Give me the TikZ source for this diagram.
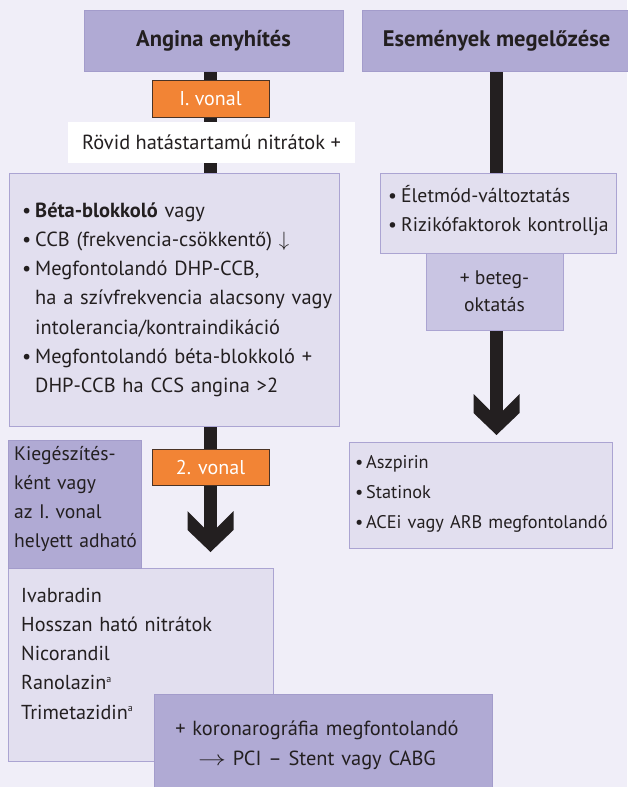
\documentclass[tikz,border=0pt]{standalone}
\usepackage{fontspec}
\setmainfont{PT Sans}
\definecolor{pagebg}{HTML}{F0EEF8}
\definecolor{midfill}{HTML}{B0AAD4}
\definecolor{midline}{HTML}{A39CCB}
\definecolor{lightfill}{HTML}{E2DFEF}
\definecolor{lightline}{HTML}{ABA4D2}
\definecolor{softfill}{HTML}{C9C5E3}
\definecolor{stepfill}{HTML}{F28435}
\definecolor{stepline}{HTML}{4A3326}
\definecolor{ink}{HTML}{231F20}
\pgfdeclarelayer{paper}
\pgfdeclarelayer{flow}
\pgfsetlayers{paper,flow,main}
\newcommand{\bul}{\makebox[13pt][l]{•}}
\newcommand{\bulr}{\makebox[11pt][l]{•}}
\newcommand{\ind}{\hspace*{13pt}}
\newcommand{\supa}{\raisebox{7.5pt}{\fontsize{10}{10}\selectfont a}}
\tikzset{
  panel/.style={line width=1pt, inner sep=0pt, text=ink},
  midbox/.style={panel, draw=midline, fill=midfill},
  lightbox/.style={panel, draw=lightline, fill=lightfill},
  softbox/.style={panel, draw=lightline, fill=softfill},
  stepbox/.style={panel, draw=stepline, line width=0.8pt, fill=stepfill, text=white,
    font=\fontsize{20}{22}\selectfont},
  title/.style={font=\bfseries\fontsize{22.5}{25}\selectfont},
  body/.style={inner sep=0pt, text=ink, align=left, anchor=base west},
  shaft/.style={draw=ink, line width=13pt},
  chevron/.pic={\fill[ink] (-6.5,-24.5) -- (-23,-41) -- (-23,-22) -- (0,0)
      -- (23,-22) -- (23,-41) -- (6.5,-24.5) -- cycle;}
}
\begin{document}
\begin{tikzpicture}[x=1pt,y=-1pt]
\useasboundingbox (0,0) rectangle (627,787);
\begin{pgfonlayer}{paper}
  \fill[pagebg] (0,0) rectangle (627,787);
\end{pgfonlayer}

% column heads
\node[midbox, title, minimum width=259pt, minimum height=61pt] (A) at (213.5,40.5) {Angina enyhítés};
\node[midbox, title, minimum width=269pt, minimum height=61pt] (E) at (496.5,40.5) {Események megelőzése};

% left column, first line of therapy
\node[stepbox, minimum width=117pt, minimum height=37pt] (S1) at (210.5,98.5) {I. vonal};
\node[panel, fill=white, minimum width=287pt, minimum height=41pt,
  font=\fontsize{20.4}{22}\selectfont] (N) at (211.5,142.5) {Rövid hatástartamú nitrátok +};
\node[lightbox, minimum width=330pt, minimum height=253pt] (L) at (174,299.5) {};
\node[body, text width=320pt, font=\fontsize{20.4}{29.3}\selectfont] (Ltext) at (22,217)
  {\bul\textbf{Béta-blokkoló} vagy\\
   \bul CCB (frekvencia-csökkentő) $\downarrow$\\
   \bul Megfontolandó DHP-CCB,\\
   \ind ha a szívfrekvencia alacsony vagy\\
   \ind intolerancia/kontraindikáció\\
   \bul Megfontolandó béta-blokkoló +\\
   \ind DHP-CCB ha CCS angina >2};

% left column, second line of therapy
\node[stepbox, minimum width=117pt, minimum height=36pt] (S2) at (210.5,467) {2. vonal};
\node[lightbox, minimum width=265pt, minimum height=193pt] (I) at (140.5,664.5) {};
\node[midbox, minimum width=133pt, minimum height=128pt] (K) at (74.5,504) {};
\node[body, text width=125pt, font=\fontsize{19.6}{29.3}\selectfont] (Ktext) at (14,460)
  {Kiegészítés-\\ként vagy\\az I. vonal\\helyett adható};
\node[body, text width=240pt, font=\fontsize{20.2}{29.3}\selectfont] (Itext) at (21,602)
  {Ivabradin\\Hosszan ható nitrátok\\Nicorandil\\Ranolazin\supa\\Trimetazidin\supa};
\node[midbox, minimum width=338pt, minimum height=100pt] (C) at (323,744) {};
\node[body, anchor=base, align=center, text width=330pt, font=\fontsize{20.4}{30}\selectfont] (Ctext) at (317,735)
  {+ koronarográfia megfontolandó\\\scalebox{1.35}[1]{$\rightarrow$} PCI – Stent vagy CABG};

% right column
\node[lightbox, minimum width=236pt, minimum height=80pt] (R1) at (498,213) {};
\node[body, text width=230pt, font=\fontsize{19.7}{29}\selectfont] (R1text) at (388,202.5)
  {\bul Életmód-változtatás\\\bul Rizikófaktorok kontrollja};
\node[softbox, minimum width=137pt, minimum height=77pt, align=center,
  font=\fontsize{19.6}{26.6}\selectfont] (B) at (494.5,291.5) {+ beteg-\\oktatás};
\node[lightbox, minimum width=263pt, minimum height=106pt] (R2) at (480.5,495) {};
\node[body, text width=300pt, font=\fontsize{18.3}{30}\selectfont] (R2text) at (355,468)
  {\bulr Aszpirin\\\bulr Statinok\\\bulr ACEi vagy ARB megfontolandó};

% flow arrows behind the boxes
\coordinate (tipL) at (210.5,552);
\coordinate (tipR) at (496.5,435);
\begin{pgfonlayer}{flow}
  \draw[shaft] (A.south -| tipL) -- ([yshift=24pt]tipL);
  \pic at (tipL) {chevron};
  \draw[shaft] (E.south -| tipR) -- ([yshift=24pt]tipR);
  \pic at (tipR) {chevron};
\end{pgfonlayer}
\end{tikzpicture}
\end{document}
